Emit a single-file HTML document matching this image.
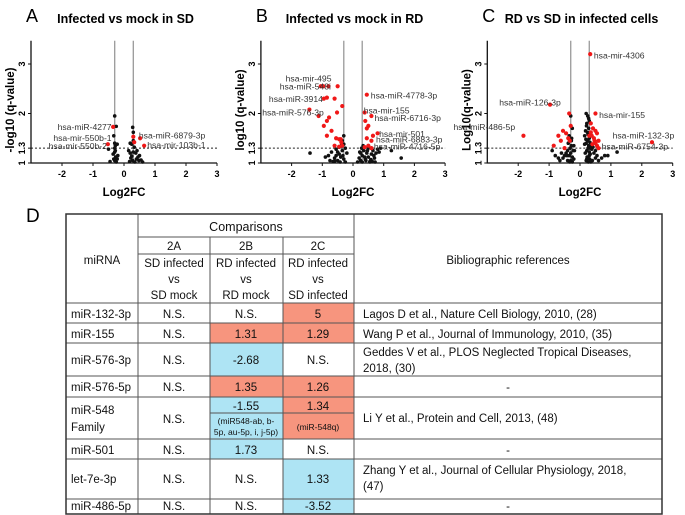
<!DOCTYPE html>
<html><head><meta charset="utf-8">
<style>
html,body{margin:0;padding:0;background:#fff;}
svg{display:block;font-family:"Liberation Sans",sans-serif;}
.t{font-size:11.5px;fill:#111;}
.ts{font-size:8.5px;fill:#111;}
</style></head>
<body>
<svg id="fig" width="685" height="515" viewBox="0 0 685 515">
<g id="plots"></g>
<g id="table">
 <text x="26" y="222" font-size="19">D</text>
 <rect x="283" y="303" width="71" height="20" fill="#f7957e"/>
 <rect x="210" y="323" width="73" height="20" fill="#f7957e"/>
 <rect x="283" y="323" width="71" height="20" fill="#f7957e"/>
 <rect x="210" y="343" width="73" height="33" fill="#aee4f4"/>
 <rect x="210" y="376" width="73" height="21" fill="#f7957e"/>
 <rect x="283" y="376" width="71" height="21" fill="#f7957e"/>
 <rect x="210" y="397" width="73" height="42" fill="#aee4f4"/>
 <rect x="283" y="397" width="71" height="42" fill="#f7957e"/>
 <rect x="210" y="439" width="73" height="20" fill="#aee4f4"/>
 <rect x="283" y="459" width="71" height="40" fill="#aee4f4"/>
 <rect x="283" y="499" width="71" height="15" fill="#aee4f4"/>
 <g stroke="#555" stroke-width="1" fill="none">
  <line x1="138" y1="237" x2="354" y2="237"/>
  <line x1="138" y1="254" x2="354" y2="254"/>
  <line x1="66" y1="303" x2="662" y2="303"/>
  <line x1="66" y1="323" x2="662" y2="323"/>
  <line x1="66" y1="343" x2="662" y2="343"/>
  <line x1="66" y1="376" x2="662" y2="376"/>
  <line x1="66" y1="397" x2="662" y2="397"/>
  <line x1="210" y1="413" x2="354" y2="413"/>
  <line x1="66" y1="439" x2="662" y2="439"/>
  <line x1="66" y1="459" x2="662" y2="459"/>
  <line x1="66" y1="499" x2="662" y2="499"/>
  <line x1="138" y1="214" x2="138" y2="514"/>
  <line x1="210" y1="237" x2="210" y2="514"/>
  <line x1="283" y1="237" x2="283" y2="514"/>
  <line x1="354" y1="214" x2="354" y2="514"/>
  <rect x="66" y="214" width="596" height="300" stroke="#333" stroke-width="1.5"/>
 </g>
 <g class="t" text-anchor="middle">
  <text x="102" y="264">miRNA</text>
  <text x="246" y="231" font-size="12.5">Comparisons</text>
  <text x="174" y="250">2A</text><text x="246" y="250">2B</text><text x="318" y="250">2C</text>
  <text x="174" y="267">SD infected</text><text x="174" y="283">vs</text><text x="174" y="299">SD mock</text>
  <text x="246" y="267">RD infected</text><text x="246" y="283">vs</text><text x="246" y="299">RD mock</text>
  <text x="318" y="267">RD infected</text><text x="318" y="283">vs</text><text x="318" y="299">SD infected</text>
  <text x="508" y="264">Bibliographic references</text>
  <text x="174" y="318">N.S.</text><text x="246" y="318">N.S.</text><text x="318" y="318">5</text>
  <text x="174" y="338">N.S.</text><text x="246" y="338">1.31</text><text x="318" y="338">1.29</text>
  <text x="174" y="364">N.S.</text><text x="246" y="364">-2.68</text><text x="318" y="364">N.S.</text>
  <text x="174" y="391">N.S.</text><text x="246" y="391">1.35</text><text x="318" y="391">1.26</text>
  <text x="174" y="423">N.S.</text><text x="246" y="410">-1.55</text><text x="318" y="410">1.34</text>
  <text x="174" y="454">N.S.</text><text x="246" y="454">1.73</text><text x="318" y="454">N.S.</text>
  <text x="174" y="483">N.S.</text><text x="246" y="483">N.S.</text><text x="318" y="483">1.33</text>
  <text x="174" y="510">N.S.</text><text x="246" y="510">N.S.</text><text x="318" y="510">-3.52</text>
  <text x="508" y="391">-</text><text x="508" y="454">-</text><text x="508" y="510">-</text>
 </g>
 <g class="ts" text-anchor="middle">
  <text x="246" y="424">(miR548-ab, b-</text><text x="246" y="435">5p, au-5p, i, j-5p)</text>
  <text x="318" y="430">(miR-548q)</text>
 </g>
 <g class="t" font-size="10.5">
  <text x="71" y="318">miR-132-3p</text><text x="71" y="338">miR-155</text>
  <text x="71" y="364">miR-576-3p</text><text x="71" y="391">miR-576-5p</text>
  <text x="71" y="414">miR-548</text><text x="71" y="431">Family</text>
  <text x="71" y="454">miR-501</text><text x="71" y="483">let-7e-3p</text>
  <text x="71" y="510">miR-486-5p</text>
 </g>
 <g class="t">
  <text x="363" y="318">Lagos D et al., Nature Cell  Biology, 2010, (28)</text>
  <text x="363" y="338">Wang P et al., Journal of Immunology, 2010, (35)</text>
  <text x="363" y="356">Geddes V et al., PLOS Neglected Tropical Diseases,</text>
  <text x="363" y="372">2018, (30)</text>
  <text x="363" y="422">Li Y et al., Protein and Cell, 2013, (48)</text>
  <text x="363" y="474">Zhang Y et al., Journal of Cellular Physiology, 2018,</text>
  <text x="363" y="490">(47)</text>
 </g>
</g>
</svg>
<script>
const xTicks = [-2,-1,0,1,2,3];
const yTicks = [1,1.3,2,3];
const yTickLabels = ["1","1.3","2","3"];
const titles = ["Infected vs mock in SD","Infected vs mock in RD","RD vs SD in infected cells"];
const yTitles = ["-log10 (q-value)","log10 (q-value)","Log10(q-value)"];
const letters = ["A","B","C"];

const redA_x = [-0.35,0.3,0.52,0.33,0.65,-0.52];
const redA_y = [1.73,1.53,1.5,1.42,1.35,1.38];
const blackA_x = [-0.3,-0.25,-0.33,-0.3,-0.28,-0.22,-0.3,-0.35,-0.27,-0.2,-0.3,-0.33,-0.25,-0.28,-0.5,-0.45,-0.3,-0.22,0.28,0.3,0.2,0.25,0.33,0.15,0.2,0.3,0.38,0.45,0.5,0.22,0.28,0.35,0.4,0.55,0.6,0.18,0.25,0.42,0.3,0.48];
const blackA_y = [1.95,1.74,1.55,1.4,1.35,1.38,1.22,1.18,1.12,1.15,1.05,1.08,1.02,1.25,1.28,1.03,1.3,1.08,1.72,1.62,1.4,1.38,1.32,1.25,1.2,1.22,1.2,1.12,1.15,1.1,1.05,1.02,1.08,1.06,1.02,1.03,1.14,1.25,1.45,1.05];

const redB_x = [-1.05,-0.97,-0.8,-0.5,-0.95,-0.85,-0.6,-1.42,-1.12,-0.35,-0.52,-0.78,-0.85,-0.95,-0.7,-0.85,-0.55,-0.45,-0.4,-0.6,-0.45,-0.35,-0.38,0.45,0.38,0.6,0.4,0.5,0.45,0.8,0.65,0.45,0.6,0.5,0.6,0.38];
const redB_y = [2.55,2.55,2.55,2.55,2.3,2.32,2.3,2.08,1.95,2.15,2.02,1.92,1.85,1.75,1.65,1.55,1.5,1.48,1.48,1.35,1.33,1.35,1.42,2.38,2.02,1.95,1.85,1.75,1.7,1.6,1.55,1.5,1.45,1.35,1.3,1.32];
const blackB_x = [-1.4,1.57,1.25,-0.3,-0.35,-0.25,-0.8,-0.7,-0.6,-0.55,-0.5,-0.45,-0.4,-0.35,-0.3,-0.25,-0.2,-0.65,-0.75,-0.9,-0.55,-0.45,-0.38,-0.3,-0.5,-0.6,-0.42,-0.33,0.2,0.25,0.3,0.35,0.4,0.45,0.5,0.55,0.6,0.65,0.7,0.75,0.8,0.15,0.22,0.28,0.33,0.42,0.5,0.58,0.68,0.85,0.9,0.3,0.38,0.47,0.55,0.25,0.62,0.72];
const blackB_y = [1.2,1.1,1.25,1.55,1.45,1.3,1.15,1.22,1.1,1.28,1.05,1.18,1.12,1.25,1.08,1.02,1.2,1.03,1.05,1.12,1.15,1.32,1.35,1.38,1.22,1.04,1.02,1.15,1.1,1.05,1.15,1.25,1.08,1.2,1.12,1.02,1.18,1.25,1.1,1.2,1.28,1.02,1.22,1.3,1.35,1.05,1.3,1.07,1.15,1.22,1.3,1.02,1.12,1.25,1.03,1.2,1.04,1.02];

const redC_x = [0.33,-0.97,-1.83,0.5,2.33,0.6,-0.35,-0.3,-0.55,-0.7,-0.45,-0.38,-0.62,-0.85,-0.5,-0.33,0.35,0.42,0.5,0.55,0.38,0.45,0.6,0.5,0.4,0.55,0.35,0.47,0.3];
const redC_y = [3.2,2.18,1.55,2.0,1.42,1.3,2.0,1.75,1.65,1.55,1.6,1.5,1.45,1.35,1.3,1.45,1.8,1.7,1.65,1.6,1.55,1.5,1.45,1.4,1.38,1.35,1.62,1.45,1.55];
const blackC_x = [-0.3,-0.25,-0.35,-0.28,-0.2,-0.32,-0.4,-0.45,-0.5,-0.55,-0.3,-0.25,-0.22,-0.35,-0.28,-0.4,-0.6,-0.7,-0.8,-0.9,-0.65,-0.5,-0.38,-0.3,-0.25,-0.2,-0.33,-0.42,-0.27,-0.18,0.2,0.25,0.3,0.22,0.28,0.18,0.35,0.15,0.3,0.25,0.2,0.28,0.33,0.22,0.17,0.3,0.25,0.4,0.45,0.5,0.55,0.6,0.7,0.8,0.35,0.27,0.2,0.23,0.3,0.38,0.15,0.32,0.26,0.21,1.2,0.9,0.28,0.24,0.36,0.19,0.31,0.42,0.5,0.26,0.33,0.22];
const blackC_y = [1.95,1.7,1.55,1.45,1.35,1.3,1.25,1.2,1.15,1.1,1.05,1.02,1.25,1.15,1.35,1.05,1.2,1.1,1.15,1.25,1.05,1.3,1.4,1.2,1.12,1.08,1.02,1.15,1.5,1.25,2.0,1.95,1.85,1.8,1.7,1.65,1.6,1.55,1.5,1.45,1.4,1.35,1.3,1.25,1.2,1.15,1.1,1.05,1.2,1.1,1.15,1.05,1.1,1.15,1.02,1.02,1.05,1.12,1.22,1.28,1.38,1.42,1.58,1.75,1.22,1.15,1.9,1.62,1.35,1.48,1.08,1.32,1.25,1.3,1.18,1.08];

const labelsA = [["hsa-miR-4277",-0.4,1.73,"end"],["hsa-mir-550b-1",-0.4,1.51,"end"],["hsa-mir-550b-2",-0.55,1.34,"end"],["hsa-miR-6879-3p",0.48,1.56,"start"],["hsa-mir-103b-1",0.75,1.36,"start"]];
const labelsB = [["hsa-mir-495",-0.7,2.71,"end"],["hsa-miR-548i",-0.72,2.55,"end"],["hsa-miR-3914",-0.98,2.29,"end"],["hsa-miR-576-3p",-0.95,2.02,"end"],["hsa-miR-4778-3p",0.58,2.36,"start"],["hsa-mir-155",0.35,2.06,"start"],["hsa-miR-6716-3p",0.7,1.91,"start"],["hsa-mir-501",0.85,1.59,"start"],["hsa-miR-6883-3p",0.75,1.47,"start"],["hsa-miR-4716-5p",0.68,1.33,"start"]];
const labelsC = [["hsa-mir-4306",0.45,3.17,"start"],["hsa-miR-126-3p",-0.62,2.22,"end"],["hsa-miR-486-5p",-2.1,1.73,"end"],["hsa-mir-155",0.62,1.97,"start"],["hsa-miR-132-3p",3.05,1.56,"end"],["hsa-miR-6754-3p",2.85,1.33,"end"]];

const panels = [
 {x0:124, ux:31, red:[redA_x,redA_y], black:[blackA_x,blackA_y], labels:labelsA},
 {x0:353, ux:30.7, red:[redB_x,redB_y], black:[blackB_x,blackB_y], labels:labelsB},
 {x0:580, ux:30.9, red:[redC_x,redC_y], black:[blackC_x,blackC_y], labels:labelsC}
];
const NS = "http://www.w3.org/2000/svg";
const root = document.getElementById("plots");
function mk(tag, attrs, parent, txt){
 const e = document.createElementNS(NS, tag);
 for (const k in attrs) e.setAttribute(k, attrs[k]);
 if (txt !== undefined) e.textContent = txt;
 parent.appendChild(e); return e;
}
panels.forEach((p, i) => {
 const xs = v => p.x0 + v * p.ux;
 const ys = v => 163 - (v - 1) * 49.5;
 const g = mk("g", {}, root);
 
 
 const L = mk("text", {x: xs(-3) - 5, y: 22, "font-size": 18}, g, letters[i]);
 
 
 const T = mk("text", {x: xs(0.05), y: 23, "font-size": 12.5, "font-weight": "bold", "text-anchor": "middle"}, g, titles[i]);
 
 
 [-0.3, 0.3].forEach(v => {
  const l = mk("line", {x1: xs(v), x2: xs(v), y1: ys(3.47), y2: ys(1), stroke: "#999", "stroke-width": 1.3}, g);
  
  
 });
 const d = mk("line", {x1: xs(-3), x2: xs(3), y1: ys(1.3), y2: ys(1.3), stroke: "#222", "stroke-width": 1, "stroke-dasharray": "2,2"}, g);
 
 
 const ax = mk("path", {d: `M${xs(-3)},${ys(3.47)}V${ys(1)}H${xs(3)}`, stroke: "#111", "stroke-width": 1.3, fill: "none"}, g);
 
 
 xTicks.forEach(t => {
  mk("line", {x1: xs(t), x2: xs(t), y1: ys(1), y2: ys(1) + 3, stroke: "#111"}, g);
  const tl = mk("text", {x: xs(t), y: ys(1) + 14, "font-size": 9, "font-weight": "bold", "text-anchor": "middle"}, g, String(t));
  
  
 });
 yTicks.forEach((t, k) => {
  mk("line", {x1: xs(-3) - 3, x2: xs(-3), y1: ys(t), y2: ys(t), stroke: "#111"}, g);
  const tx = xs(-3) - 6, ty = ys(t);
  const tl = mk("text", {x: tx, y: ty, "font-size": 9, "font-weight": "bold", "text-anchor": "middle", transform: `rotate(-90 ${tx} ${ty})`}, g, yTickLabels[k]);
  
  
 });
 const xt = mk("text", {x: xs(0), y: 196, "font-size": 11.5, "font-weight": "bold", "text-anchor": "middle"}, g, "Log2FC");
 
 
 const yx = xs(-3) - 17, yy = 110;
 const yt = mk("text", {x: yx, y: yy, "font-size": 11.5, "font-weight": "bold", "text-anchor": "middle", transform: `rotate(-90 ${yx} ${yy})`}, g, yTitles[i]);
 
 
 p.black[0].forEach((v, k) => {
  const c = mk("circle", {cx: xs(v), cy: ys(p.black[1][k]), r: 1.8, fill: "#111"}, g);
  
  
 });
 p.red[0].forEach((v, k) => {
  const c = mk("circle", {cx: xs(v), cy: ys(p.red[1][k]), r: 2.1, fill: "#f01818"}, g);
  
  
 });
 p.labels.forEach(lb => {
  const t = mk("text", {x: xs(lb[1]), y: ys(lb[2]) + 3, "font-size": 8.6, fill: "#333", "text-anchor": lb[3]}, g, lb[0]);
  
  
 });
});
</script>
</body></html>
